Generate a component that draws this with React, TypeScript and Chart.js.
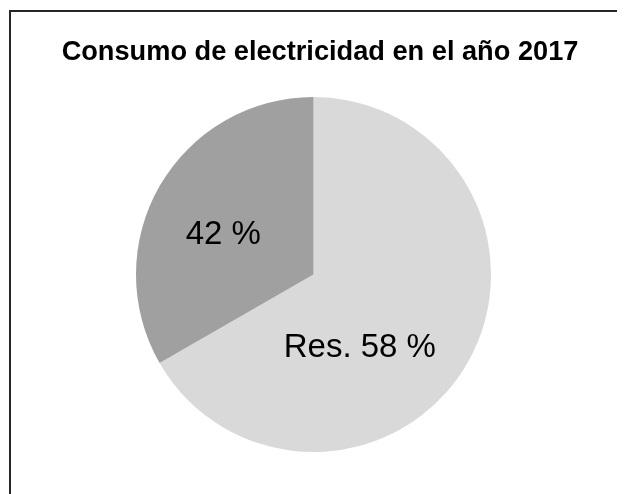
import React, { useEffect, useRef } from "react";
import { Chart, registerables } from "chart.js";

Chart.register(...registerables);

const TITLE = "Consumo de electricidad en el año 2017";
const categories = ["Res.", "Otros"];
// slice sizes as drawn in the picture (the printed labels differ from the drawn angles)
const values = [66.7, 33.3];
const sliceLabels = ["Res. 58 %", "42 %"];
const colors = ["#d9d9d9", "#a0a0a0"];
// label anchor as fraction of radius from pie centre (dx, baseline dy)
const labelAnchors = [
  [0.261, 0.466],
  [-0.508, -0.174],
];

const labelPlugin = {
  id: "sliceLabels",
  afterDatasetsDraw(chart: any) {
    const ctx = chart.ctx;
    const meta = chart.getDatasetMeta(0);
    ctx.save();
    ctx.fillStyle = "#000";
    ctx.font = "33px 'Liberation Sans', Arial, sans-serif";
    ctx.textAlign = "center";
    ctx.textBaseline = "alphabetic";
    meta.data.forEach((arc: any, i: number) => {
      const r = arc.outerRadius;
      const [fx, fy] = labelAnchors[i];
      ctx.fillText(sliceLabels[i], arc.x + fx * r, arc.y + fy * r);
    });
    ctx.restore();
  },
};

const titlePlugin = {
  id: "customTitle",
  afterDraw(chart: any) {
    const ctx = chart.ctx;
    ctx.save();
    ctx.fillStyle = "#000";
    ctx.font = "bold 27.2px 'Liberation Sans', Arial, sans-serif";
    ctx.textAlign = "center";
    ctx.textBaseline = "alphabetic";
    ctx.fillText(TITLE, chart.width / 2 + 3.5, 52);
    ctx.restore();
  },
};

export default function App() {
  const ref = useRef<HTMLCanvasElement | null>(null);
  useEffect(() => {
    if (!ref.current) return;
    const chart = new Chart(ref.current, {
      type: "pie",
      data: {
        labels: categories,
        datasets: [
          {
            data: values,
            backgroundColor: colors,
            borderWidth: 0,
          },
        ],
      },
      options: {
        animation: false,
        responsive: false,
        devicePixelRatio: 1,
        layout: { padding: { top: 89, bottom: 42, left: 0, right: 6 } },
        plugins: {
          legend: { display: false },
          title: { display: false },
          tooltip: { enabled: false },
        },
      },
      plugins: [labelPlugin, titlePlugin],
    });
    return () => chart.destroy();
  }, []);
  return (
    <div style={{ position: "relative", width: 617, height: 486, overflow: "hidden", background: "#fff" }}>
      <div
        style={{
          position: "absolute",
          left: 1,
          top: 2,
          width: 800,
          height: 800,
          borderLeft: "2px solid #262626",
          borderTop: "2px solid #262626",
        }}
      />
      <canvas ref={ref} width={617} height={486} style={{ position: "absolute", left: 0, top: 0 }} />
    </div>
  );
}
